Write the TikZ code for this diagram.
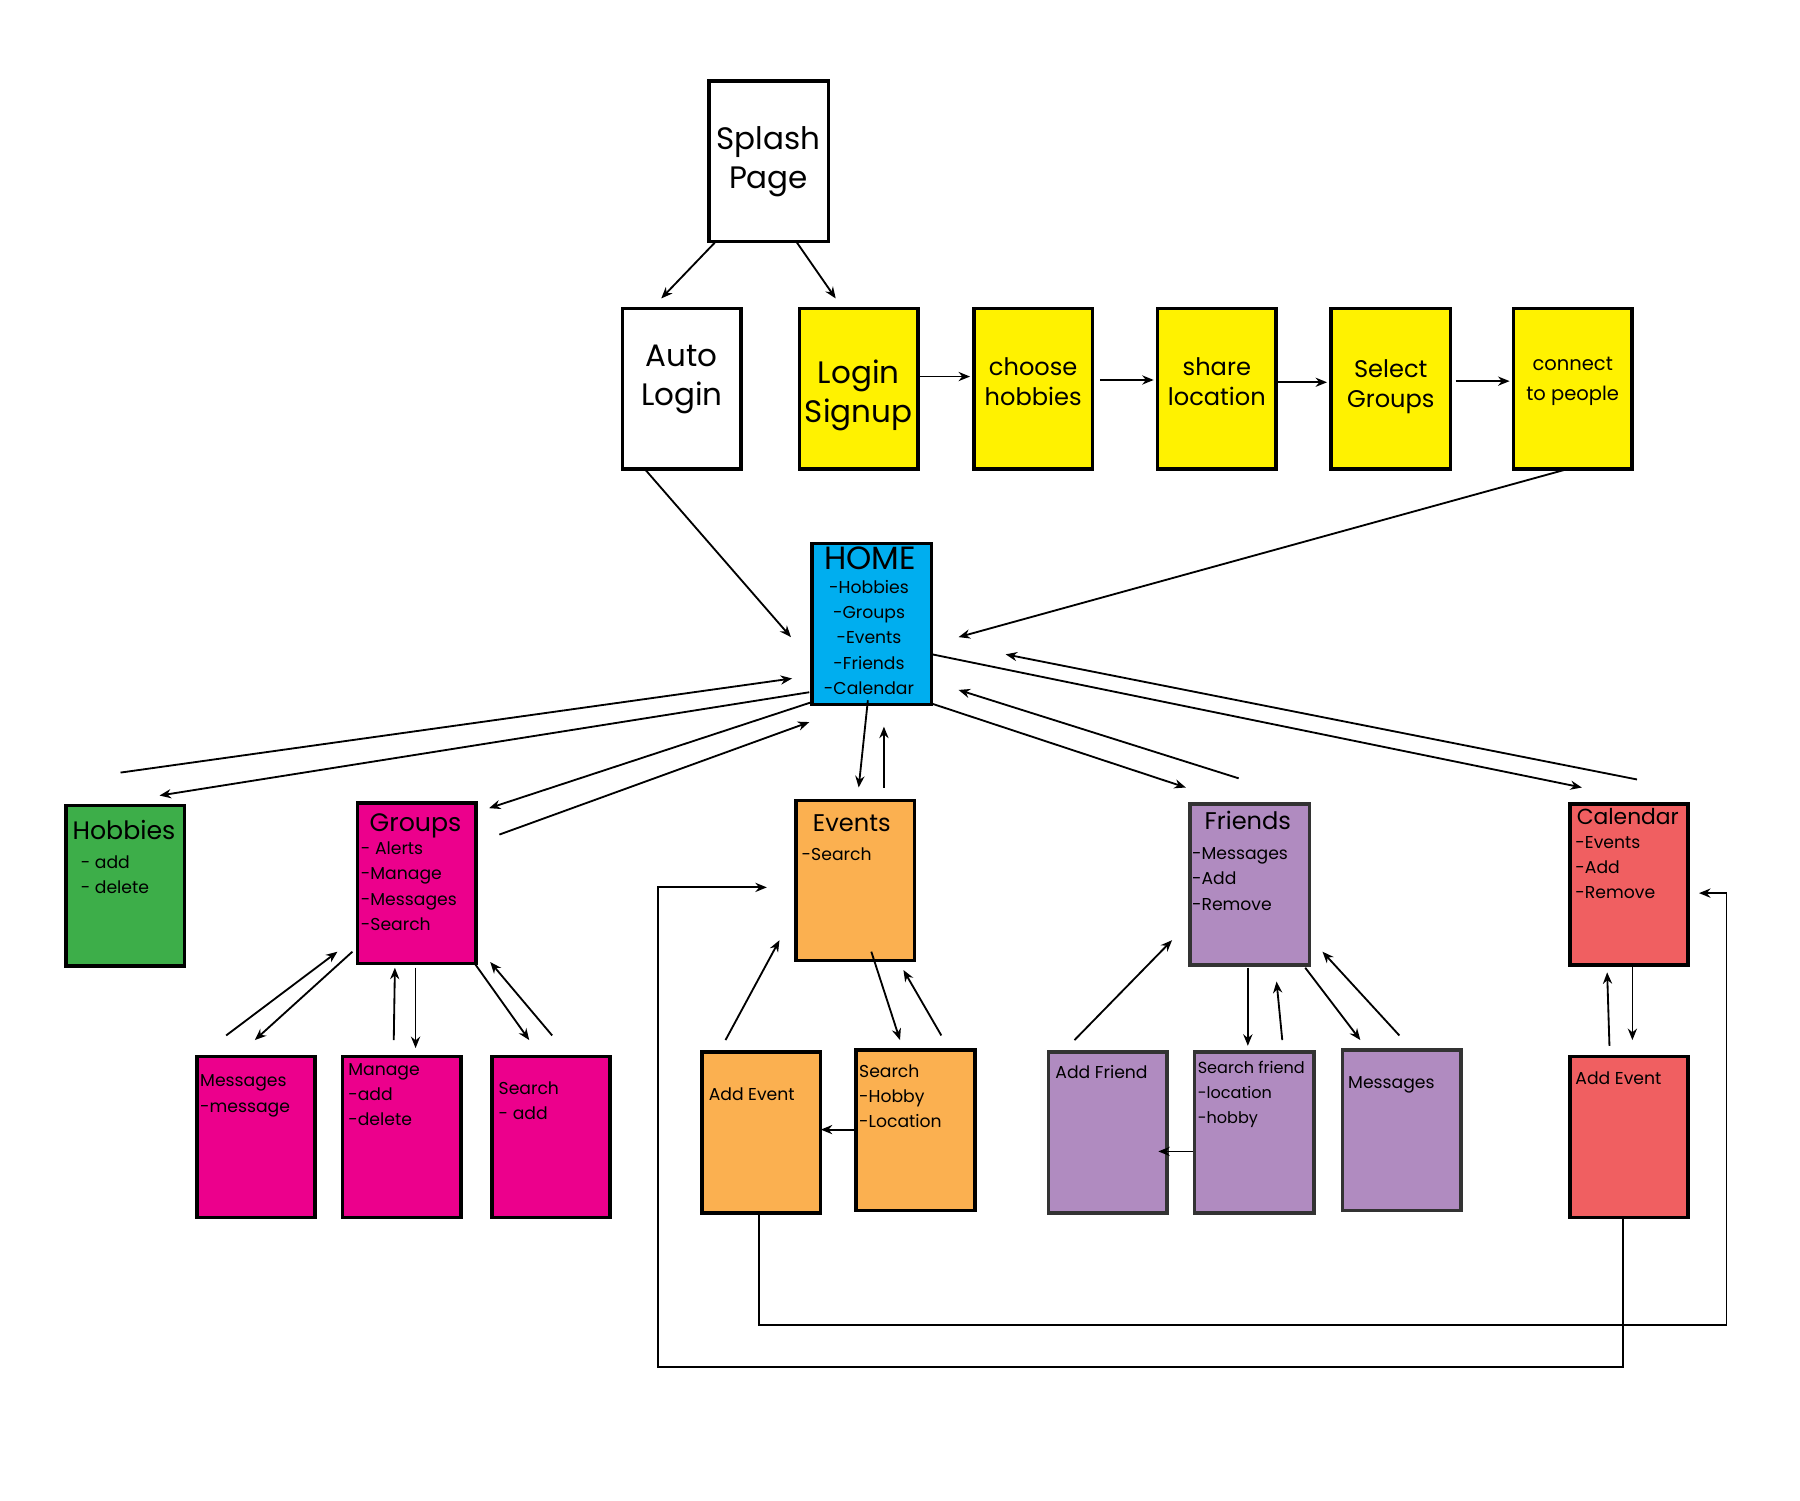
\documentclass[tikz,border=0pt]{standalone}
\usepackage{fontspec}
\setmainfont{Poppins}
\usetikzlibrary{arrows.meta}
\definecolor{yel}{HTML}{FFF200}
\definecolor{blu}{HTML}{00AEEF}
\definecolor{grn}{HTML}{3DAE49}
\definecolor{mag}{HTML}{EC008C}
\definecolor{org}{HTML}{FBB050}
\definecolor{pur}{HTML}{B08BC0}
\definecolor{rd}{HTML}{F05F61}
\tikzset{
 box/.style={draw=black,line width=1.5pt,inner sep=0pt,anchor=north west},
 pbox/.style={box,draw=black!80},
 ar/.style={line width=0.8pt,-{Stealth[length=5pt,width=4pt]}},
 big/.style={font=\fontsize{13.5}{17}\selectfont,align=center},
 med/.style={font=\fontsize{10.5}{13}\selectfont,align=center},
 hd/.style={font=\fontsize{10.5}{13}\selectfont,anchor=north,inner sep=0pt},
 sm/.style={font=\fontsize{7.5}{11}\selectfont,align=left,anchor=north west,inner sep=0pt},
}
\newcommand\bx[6]{\node[#6,minimum width={(#4-#2)*0.5pt},minimum height={(#5-#3)*0.5pt}] (#1) at (#2,#3) {};}
\begin{document}
\begin{tikzpicture}[x=0.5pt,y=-0.5pt]
\useasboundingbox (0,0) rectangle (1568,1307);
% boxes
\bx{splash}{616}{69}{720}{209}{box,fill=white}
\bx{auto}{541}{267}{644}{407}{box,fill=white}
\bx{login}{695}{267}{798}{407}{box,fill=yel}
\bx{choose}{847}{267}{950}{407}{box,fill=yel}
\bx{share}{1007}{267}{1110}{407}{box,fill=yel}
\bx{select}{1158}{267}{1262}{407}{box,fill=yel}
\bx{connect}{1317}{267}{1420}{407}{box,fill=yel}
\bx{home}{706}{472}{810}{612}{box,fill=blu}
\bx{hobbies}{56}{700}{159}{840}{box,fill=grn}
\bx{groups}{310}{698}{413}{838}{box,fill=mag}
\bx{events}{692}{696}{795}{835}{box,fill=org}
\bx{friends}{1035}{699}{1139}{839}{pbox,fill=pur}
\bx{calendar}{1366}{699}{1469}{839}{box,fill=rd}
\bx{gmsg}{170}{919}{273}{1059}{box,fill=mag}
\bx{gman}{297}{919}{400}{1059}{box,fill=mag}
\bx{gsea}{427}{919}{530}{1059}{box,fill=mag}
\bx{eadd}{610}{915}{713}{1055}{box,fill=org}
\bx{esea}{744}{913}{848}{1053}{box,fill=org}
\bx{fadd}{912}{915}{1015}{1055}{pbox,fill=pur}
\bx{fsea}{1039}{915}{1143}{1055}{pbox,fill=pur}
\bx{fmsg}{1168}{913}{1271}{1053}{pbox,fill=pur}
\bx{cadd}{1366}{919}{1469}{1059}{box,fill=rd}
% texts
\node[big] at (splash.center) {Splash\\Page};
\node[big] at ([yshift=4pt]auto.center) {Auto\\Login};
\node[big] at ([yshift=-3pt]login.center) {Login\\Signup};
\node[med] at ([yshift=3pt]choose.center) {choose\\hobbies};
\node[med] at ([yshift=3pt]share.center) {share\\location};
\node[med] at ([yshift=1pt]select.center) {Select\\Groups};
\node[font=\fontsize{8.5}{13}\selectfont,align=center] at ([yshift=3pt]connect.center) {connect\\to people};
\node[font=\fontsize{14}{16}\selectfont,anchor=north,inner sep=0pt] at (758,476) {HOME};
\node[sm,align=center,anchor=north] at (757,505) {-Hobbies\\-Groups\\-Events\\-Friends\\-Calendar};
\node[hd,font=\fontsize{11}{13}\selectfont] at (108,714) {Hobbies};
\node[sm] at (70,745) {- add\\- delete};
\node[hd,font=\fontsize{11}{13}\selectfont] at (362,708) {Groups};
\node[sm] at (314,733) {- Alerts\\-Manage\\-Messages\\-Search};
\node[hd] at (742,709) {Events};
\node[sm] at (698,738) {-Search};
\node[hd] at (1087,706) {Friends};
\node[sm] at (1038,738) {-Messages\\-Add\\-Remove};
\node[hd,font=\fontsize{9.5}{12}\selectfont] at (1418,704) {Calendar};
\node[sm] at (1372,728) {-Events\\-Add\\-Remove};
\node[sm] at (174,936) {Messages\\-message};
\node[sm] at (303,926) {Manage\\-add\\-delete};
\node[sm] at (434,942) {Search\\- add};
\node[sm] at (617,947) {Add Event};
\node[sm] at (748,927) {Search\\-Hobby\\-Location};
\node[sm] at (919,928) {Add Friend};
\node[sm,font=\fontsize{7}{11}\selectfont] at (1043,924) {Search friend\\-location\\-hobby};
\node[sm] at (1174,937) {Messages};
\node[sm] at (1372,933) {Add Event};
% arrows
\draw[ar] (623,211)--(576,260);
\draw[ar] (694,211)--(728,260);
\draw[ar] (800,328)--(845,328);
\draw[ar] (958,331)--(1005,331);
\draw[ar] (1112,333)--(1156,333);
\draw[ar] (1268,332)--(1315,332);
\draw[ar] (562,409)--(689,555);
\draw[ar] (1364,409)--(835,555);
\draw[ar] (105,673)--(690,591);
\draw[ar] (705,603)--(139,693);
\draw[ar] (706,612)--(426,704);
\draw[ar] (435,727)--(705,629);
\draw[ar] (756,610)--(748,686);
\draw[ar] (770,686)--(770,633);
\draw[ar] (812,613)--(1033,686);
\draw[ar] (1079,678)--(835,601);
\draw[ar] (812,570)--(1378,686);
\draw[ar] (1426,679)--(876,570);
\draw[ar] (197,902)--(294,829);
\draw[ar] (307,829)--(222,906);
\draw[ar] (343,906)--(344,843);
\draw[ar] (362,843)--(362,913);
\draw[ar] (414,840)--(461,906);
\draw[ar] (481,902)--(427,838);
\draw[ar] (632,906)--(679,819);
\draw[ar] (759,829)--(784,906);
\draw[ar] (820,902)--(787,845);
\draw[ar] (744,984)--(715,984);
\draw[ar] (936,906)--(1021,819);
\draw[ar] (1087,843)--(1087,911);
\draw[ar] (1117,906)--(1112,855);
\draw[ar] (1137,843)--(1185,906);
\draw[ar] (1219,902)--(1152,829);
\draw[ar] (1039,1003)--(1009,1003);
\draw[ar] (1402,911)--(1400,847);
\draw[ar] (1422,841)--(1422,906);
\draw[ar] (eadd.south -| 661,0) -- (661,1154) -- (1504,1154) -- (1504,778) -- (1480,778);
\draw[ar] (cadd.south -| 1414,0) -- (1414,1191) -- (573,1191) -- (573,773) -- (668,773);
\end{tikzpicture}
\end{document}
